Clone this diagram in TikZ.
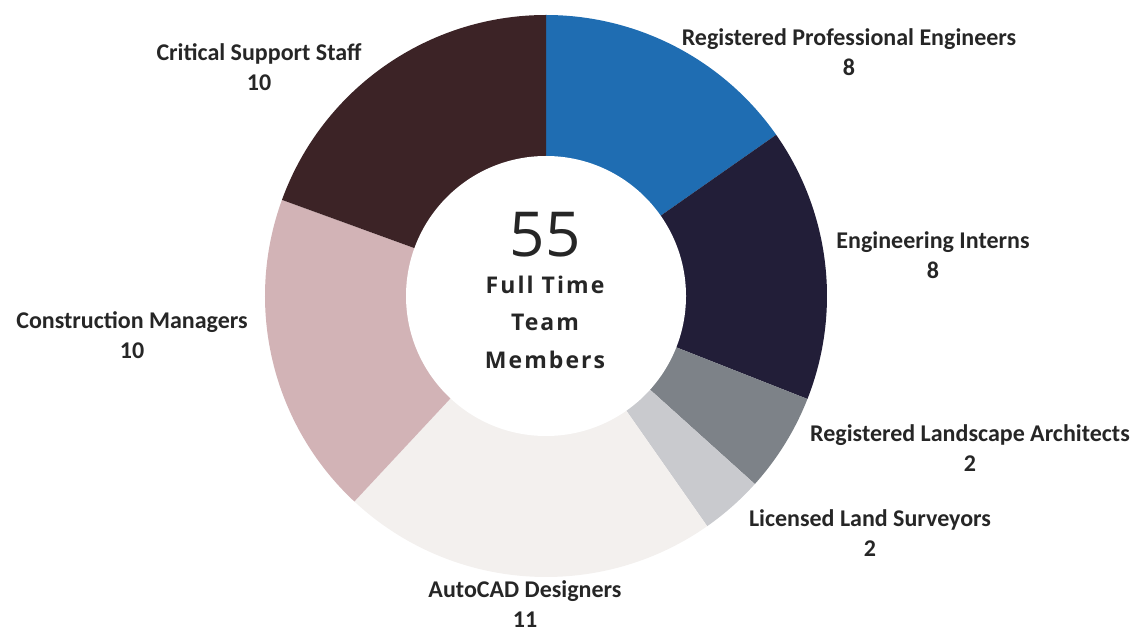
\documentclass[tikz,border=0pt]{standalone}
\usepackage{fontspec}
\setmainfont{Carlito}
\newfontfamily\midfont[LetterSpace=9]{Open Sans}
\newfontfamily\bignum{Open Sans}
\usetikzlibrary{positioning}
\definecolor{rpecol}{HTML}{1F6DB2}
\definecolor{eicol}{HTML}{221E38}
\definecolor{rlacol}{HTML}{7D8288}
\definecolor{llscol}{HTML}{C9CACE}
\definecolor{acdcol}{HTML}{F3F0EE}
\definecolor{cmcol}{HTML}{D2B3B6}
\definecolor{csscol}{HTML}{3C2326}
\definecolor{txtcol}{HTML}{262626}
\tikzset{font=\bfseries\fontsize{24}{30}\selectfont}

\begin{document}
\begin{tikzpicture}[x=1pt, y=1pt]
	\useasboundingbox (0, 0) rectangle (1145, 632);
	\begin{scope}
		\coordinate (ctr) at (546, 336);
		% ring pieces, clockwise from the top
		\fill[rpecol] (ctr) -- ++(90:281) arc[start angle=90, end angle=35, radius=281] -- cycle;
		\fill[eicol] (ctr) -- ++(35:281) arc[start angle=35, end angle=-21.5, radius=281] -- cycle;
		\fill[rlacol] (ctr) -- ++(-21.5:281) arc[start angle=-21.5, end angle=-42, radius=281] -- cycle;
		\fill[llscol] (ctr) -- ++(-42:281) arc[start angle=-42, end angle=-55, radius=281] -- cycle;
		\fill[acdcol] (ctr) -- ++(-55:281) arc[start angle=-55, end angle=-133, radius=281] -- cycle;
		\fill[cmcol] (ctr) -- ++(-133:281) arc[start angle=-133, end angle=-200, radius=281] -- cycle;
		\fill[csscol] (ctr) -- ++(160:281) arc[start angle=160, end angle=90, radius=281] -- cycle;
		\fill[white] (ctr) circle[radius=140];
	\end{scope}
	\begin{scope}
		\tikzstyle{every node}=[align=center, inner sep=1pt, text=txtcol]
		\node (num) at (545, 397) [font=\bignum\mdseries\fontsize{62}{62}\selectfont] {55};
		\node (ftm) [below=16pt of num, font=\midfont\bfseries\fontsize{23}{37.5}\selectfont] {Full Time\\Team\\Members};

		\node (rpe) at (849, 580) {Registered Professional Engineers\\8};
		\node (ei) at (933, 377) {Engineering Interns\\8};
		\node (rla) at (970, 184) {Registered Landscape Architects\\2};
		\node (lls) at (870, 99) {Licensed Land Surveyors\\2};
		\node (acd) at (525, 28) {AutoCAD Designers\\11};
		\node (cm) at (132, 297) {Construction Managers\\10};
		\node (css) at (259, 565) {Critical Support Staff\\10};
	\end{scope}
\end{tikzpicture}
\end{document}
